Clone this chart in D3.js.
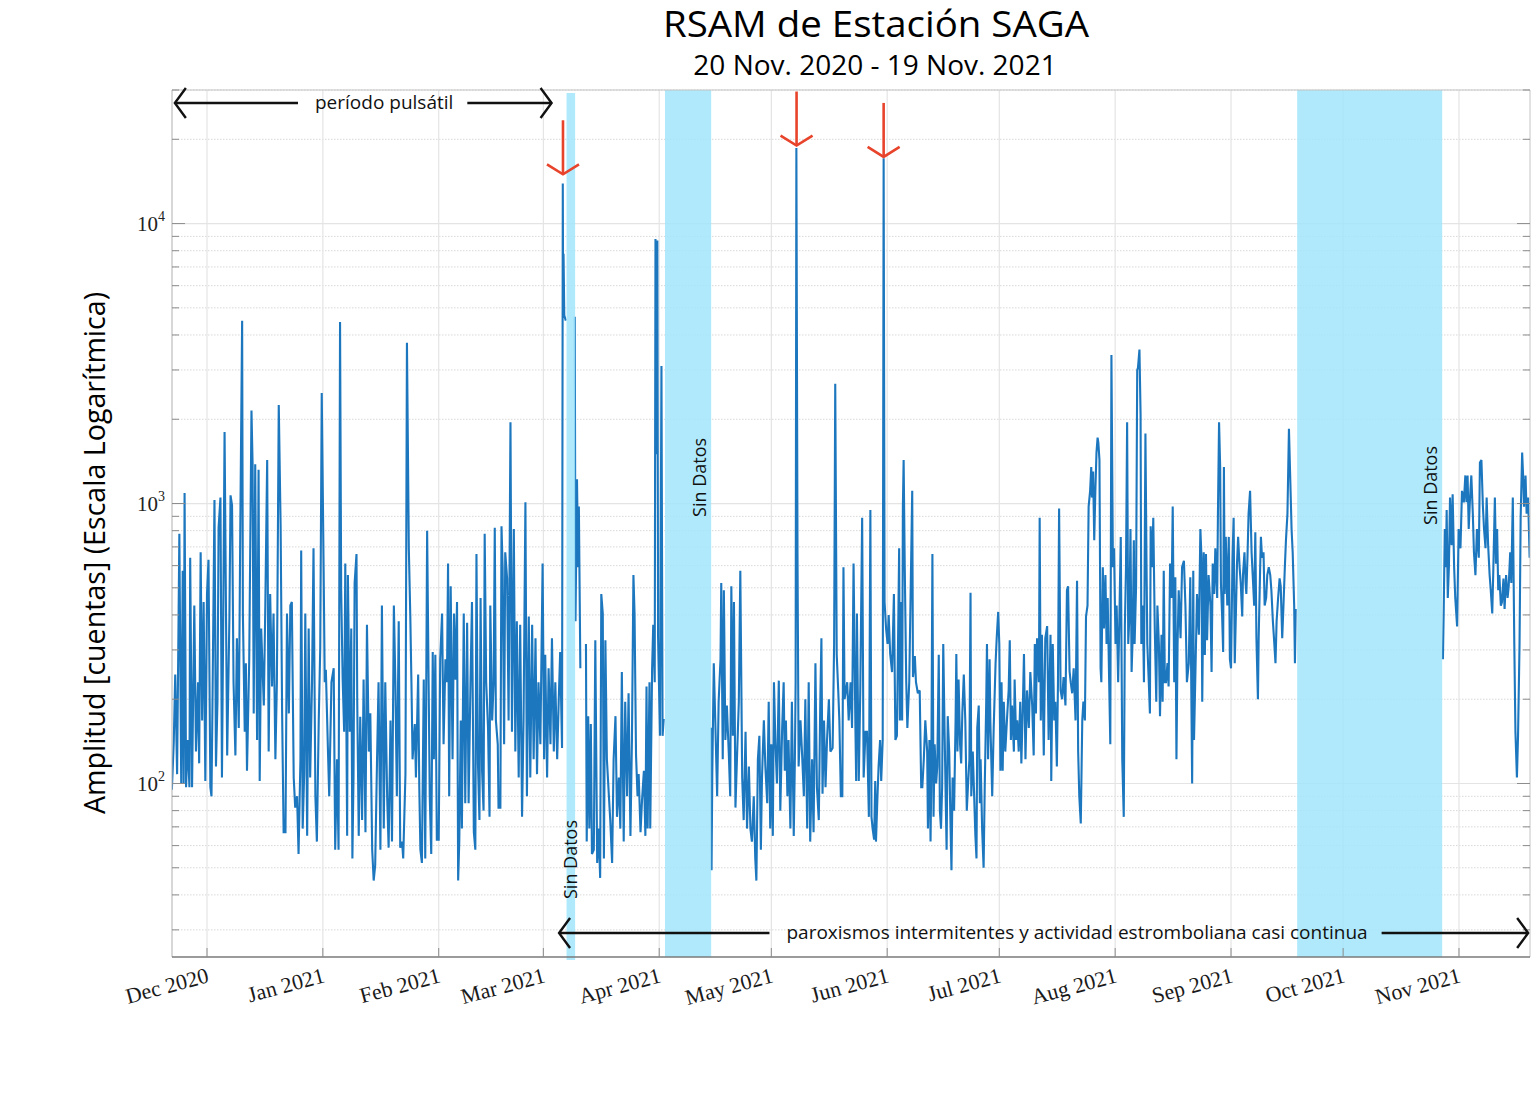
<!DOCTYPE html>
<html><head><meta charset="utf-8">
<script src="https://cdn.jsdelivr.net/npm/d3@7"></script>
<style>
body{margin:0;background:#fff}
svg{display:block}
.sans{font-family:"Open Sans","Noto Sans",sans-serif}
.serif{font-family:"Liberation Serif","DejaVu Serif",serif}
</style>
</head><body>
<svg id="c" width="1533" height="1095"></svg>
<script>
// ---------------- DATA (day offsets from 21 Nov 2020, RSAM counts) ----------------
const baseDate = new Date(2020, 10, 21);
const titleText = "RSAM de Estación SAGA";
const subtitleText = "20 Nov. 2020 - 19 Nov. 2021";
const yLabelText = "Amplitud [cuentas] (Escala Logarítmica)";
const yMajorTicks = [100, 1000, 10000];
const yTickExponents = ["2", "3", "4"];

const rsamNovFeb = [
[0.6,95],[1.1,140],[1.5,245],[2.0,108],[2.6,780],[3.1,100],[3.5,575],[3.75,100],[4.0,1090],[4.4,97],[4.8,143],[5.3,97],[5.5,640],[6.0,97],[6.6,432],[7.05,130],[7.6,230],[7.9,118],[8.3,670],[8.7,168],[9.1,445],[9.55,102],[10.0,475],[10.4,630],[10.9,97],[11.2,90],[11.5,215],[12.0,1030],[12.4,115],[12.8,196],[13.1,820],[13.6,1050],[14.0,105],[14.3,325],[14.7,1800],[15.1,380],[15.4,126],[16.0,395],[16.3,1070],[16.7,985],[17.1,230],[17.6,126],[18.0,330],[18.5,158],[18.9,795],[19.4,4500],[19.6,405],[20.1,153],[20.4,269],[20.7,111],[21.3,278],[21.9,2150],[22.2,1380],[22.5,178],[22.9,1380],[23.4,143],[23.8,1320],[24.1,102],[24.5,358],[25.2,190],[25.6,432],[26.1,1430],[26.5,130],[26.9,475],[27.4,222],[27.8,405],[28.3,122],[28.7,230],[29.2,2250],[29.7,830],[30.1,178],[30.5,67],[31.0,67],[31.4,405],[31.9,178],[32.3,432],[32.7,445],[33.2,105],[33.6,82],[34.1,90],[34.5,56],[35.0,122],[35.2,680],[35.6,69],[36.0,108],[36.3,405],[36.8,65],[37.2,358],[37.6,105],[38.1,230],[38.5,692],[39.0,90],[39.4,62],[39.9,168],[40.3,305],[40.7,2480],[41.2,592],[41.5,230],[41.8,255],[42.4,126],[42.7,90],[43.3,230],[43.9,258],[44.3,58],[44.8,122],[45.2,58],[45.6,4450],[45.9,490],[46.3,235],[46.7,153],[47.0,610],[47.5,65],[47.7,555],[48.2,153],[48.6,358],[48.9,54],[49.2,105],[49.5,520],[50.0,660],[50.2,196],[50.6,65],[51.0,173],[51.5,74],[51.9,235],[52.4,67],[52.8,369],[53.3,130],[53.7,178],[54.2,58],[54.6,45],[55.0,51],[55.5,122],[55.9,230],[56.4,58],[56.8,432],[57.3,69],[57.7,230],[58.2,90],[58.6,59],[59.1,168],[59.5,62],[60.0,432],[60.4,230],[60.8,90],[61.3,380],[61.7,59],[62.2,62],[62.5,54],[63.1,108],[63.5,3750],[64.0,692],[64.4,395],[64.7,230],[65.0,122],[65.6,163],[65.9,105],[66.5,245],[66.8,97],[67.1,58],[67.5,52],[68.0,235],[68.4,54],[68.9,800],[69.3,230],[69.6,90],[70.0,56],[70.4,295],[70.7,122],[71.1,288],[71.5,63],[72.0,63],[72.4,278],[72.9,405],[73.3,138],[73.8,278],[74.2,230],[74.5,610],[74.8,90],[75.2,506],[75.7,122],[76.1,405],[76.5,235],[76.9,445],[77.2,45],[77.5,62],[77.9,168],[78.2,69],[78.7,405],[79.1,85],[79.6,375],[80.0,85],[80.5,230],[80.9,445],[81.4,67],[81.8,58],[82.1,660],[82.5,118],[82.9,74],[83.2,460],[83.6,111],[84.0,80],[84.3,780],[84.7,230],[85.2,158],[85.6,76],[85.8,432],[86.3,168],[86.7,230],[87.0,820],[87.3,168],[87.8,138],[88.0,82],[88.5,82],[88.8,830],[89.1,592],[89.5,138],[89.8,670],[90.3,540],[90.7,168],[91.2,1950]
];
const rsamMarA = [
[91.6,153],[92.1,811],[92.5,130],[92.9,380],[93.4,105],[93.8,369],[94.3,76],[94.7,168],[95.2,1010],[95.6,90],[96.1,395],[96.5,105],[97.0,369],[97.4,122],[97.9,330],[98.3,108],[98.7,230],[99.2,138],[99.8,610],[100.2,122],[100.5,288],[101.0,105],[101.4,258],[101.9,138],[102.3,330],[102.8,130],[103.2,230],[103.7,122],[104.1,196],[104.5,295],[105.0,134],[105.2,13900],[105.3,4800],[105.4,7800],[105.6,4700],[106.0,4500]
];
const rsamMarB = [[108.4,4650],[108.6,380],[109.0,1220],[109.3,592],[109.5,975],[109.9,258]];
const rsamMarApr = [
[111.4,315],[111.6,62],[112.0,174],[112.3,69],[112.7,163],[113.0,56],[113.5,58],[113.9,325],[114.4,52],[114.8,69],[115.2,46],[115.5,475],[115.9,405],[116.2,54],[116.6,325],[117.0,122],[117.5,92],[117.9,74],[118.4,52],[118.8,122],[119.3,174],[119.7,76],[120.2,105],[120.6,69],[121.0,250],[121.5,62],[121.9,196],[122.4,90],[122.8,210],[123.3,65],[123.7,143],[124.1,555],[124.4,405],[124.8,126],[125.2,90],[125.5,108],[126.0,67],[126.4,87],[126.9,111],[127.3,65],[127.6,222],[127.9,69],[128.4,230],[128.6,69],[129.1,258],[129.4,369],[129.8,230],[130.0,8800],[130.2,1500],[130.5,8700],[130.7,330],[131.2,148],[131.6,3100],[131.9,148],[132.2,170]
];
const rsamAprMay = [
[144.9,158],[145.0,49],[145.2,108],[145.6,269],[146.0,168],[146.5,90],[146.9,196],[147.4,278],[147.6,520],[148.0,122],[148.3,490],[148.7,143],[149.1,190],[149.6,130],[150.0,90],[150.3,506],[150.7,148],[151.0,445],[151.4,82],[151.8,122],[152.3,196],[152.7,575],[153.2,105],[153.6,74],[154.1,153],[154.5,69],[155.0,115],[155.4,69],[155.8,62],[156.3,90],[156.7,54],[157.0,45],[157.4,122],[157.8,148],[158.2,58],[158.5,105],[159.0,168],[159.4,115],[159.9,85],[160.3,196],[160.7,69],[161.0,138],[161.4,65],[161.7,230],[162.1,138],[162.5,100],[163.0,233],[163.4,80],[163.9,158],[164.3,230],[164.6,111],[164.9,168],[165.3,90],[165.6,143],[166.1,69],[166.5,196],[167.0,65],[167.3,122],[167.5,230],[167.7,18600],[168.0,670],[168.3,115],[168.8,168],[169.2,130],[169.7,90],[170.1,200],[170.6,69],[171.0,230],[171.4,62],[171.9,122],[172.3,67],[172.8,269],[173.2,97],[173.7,74],[174.1,196],[174.4,330],[174.7,92],[175.1,168],[175.5,97],[175.9,143],[176.4,200],[176.8,130],[177.4,134],[177.8,315],[178.1,2680],[178.5,288],[178.9,215],[179.2,168],[179.6,90],[180.0,90],[180.3,592],[180.6,200],[181.3,230],[181.7,168],[182.2,230]
];
const rsamJunAug = [
[182.6,158],[183.0,610],[183.5,158],[183.7,102],[183.9,405],[184.4,102],[184.8,215],[185.3,890],[185.7,105],[186.2,153],[186.6,153],[187.1,76],[187.5,948],[187.8,76],[188.1,69],[188.5,63],[188.8,102],[189.0,62],[189.4,90],[189.7,115],[190.1,143],[190.4,102],[190.8,143],[191.05,17100],[191.3,445],[191.7,358],[192.1,315],[192.4,400],[192.8,290],[193.3,250],[193.8,475],[194.2,143],[194.6,148],[194.9,315],[195.2,692],[195.4,168],[195.7,445],[196.0,168],[196.2,975],[196.4,1430],[196.7,592],[197.1,230],[197.4,158],[197.9,230],[198.7,1110],[198.9,240],[199.4,285],[199.7,230],[200.2,210],[200.7,215],[201.1,97],[201.4,97],[201.8,122],[202.2,168],[202.7,130],[202.9,69],[203.3,143],[203.6,62],[203.8,105],[204.1,660],[204.4,76],[204.7,138],[205.1,100],[205.4,115],[205.8,288],[206.1,80],[206.4,69],[206.7,97],[207.0,315],[207.4,143],[207.7,82],[207.9,58],[208.2,174],[208.6,130],[208.9,76],[209.2,49],[209.5,105],[209.9,80],[210.3,168],[210.5,290],[210.8,130],[211.1,235],[211.5,138],[211.8,118],[212.1,178],[212.5,245],[212.9,168],[213.3,80],[213.6,97],[214.0,122],[214.3,480],[214.5,90],[214.9,130],[215.2,97],[215.6,65],[215.9,54],[216.1,158],[216.5,190],[216.8,85],[217.0,122],[217.4,69],[217.8,50],[218.1,97],[218.5,196],[218.7,315],[219.0,122],[219.4,278],[219.6,168],[220.1,90],[220.5,158],[221.0,269],[221.3,330],[221.7,410],[222.0,315],[222.3,111],[222.6,230],[222.9,111],[223.2,196],[223.6,130],[224.1,174],[224.5,215],[224.8,325],[225.1,143],[225.4,190],[225.9,130],[226.1,235],[226.5,143],[226.8,168],[227.2,130],[227.6,196],[227.9,118],[228.3,190],[228.6,290],[229.0,122],[229.4,215],[229.9,158],[230.3,250],[230.8,190],[231.2,126],[231.5,315],[231.8,178],[232.1,330],[232.6,230],[232.8,890],[233.1,168],[233.4,340],[233.9,126],[234.3,330],[234.8,365],[235.2,143],[235.7,340],[235.9,102],[236.3,315],[236.7,168],[237.0,196],[237.4,115],[237.7,230],[238.0,960],[238.4,215],[238.8,200],[239.2,240],[239.7,190],[240.1,490],[240.4,506],[240.8,252],[241.1,230],[241.5,210],[241.9,258],[242.4,168],[242.8,530],[243.1,130],[243.4,90],[243.8,72],[244.2,168],[244.5,196],[244.9,168],[245.2,395],[245.6,432],[245.9,975],[246.3,1110],[246.6,1350],[246.8,1050],[247.1,1300],[247.4,740],[247.7,1110],[248.0,1520],[248.3,1720],[248.5,1650],[248.8,1430],[249.1,258],[249.3,230],[249.7,592],[250.0,358],[250.4,555],[250.7,315],[251.0,460],[251.4,230],[251.7,138],[252.0,3390],[252.4,592],[252.7,692],[253.1,315],[253.4,432],[253.8,230],[254.1,369],[254.5,760],[254.9,122],[255.3,76],[255.6,369],[255.9,592],[256.2,1950],[256.5,315],[256.8,395],[257.1,811],[257.4,250],[257.7,340],[258.0,740],[258.2,315],[258.6,506],[258.9,3000],[259.1,3050],[259.5,3550],[259.8,2080],[260.0,315],[260.4,432],[260.7,230],[261.1,1780],[261.4,592],[261.6,315],[262.0,230],[262.3,178],[262.5,830],[262.9,592],[263.2,890],[263.6,358],[264.0,196],[264.3,432],[264.7,315],[265.0,174],[265.4,340],[265.7,196],[266.0,575],[266.3,230],[266.6,230],[267.0,269],[267.3,222],[267.7,610],[268.1,460],[268.4,975],[268.8,230],[269.1,545],[269.4,122],[269.7,315],[270.0,490],[270.5,330],[270.9,592],[271.4,625],[271.8,432],[272.2,230],[272.7,269],[273.1,545],[273.6,100]
];
const rsamSep = [
[273.9,575],[274.1,143],[274.5,258],[274.9,475],[275.4,340],[275.8,811],[276.1,640],[276.3,196],[276.7,670],[277.0,288],[277.3,660],[277.6,325],[278.0,555],[278.5,432],[278.8,250],[279.1,610],[279.5,475],[279.8,692],[280.3,460],[280.5,920],[280.8,1950],[281.1,1350],[281.3,520],[281.6,405],[281.9,295],[282.1,1350],[282.3,475],[282.6,760],[283.0,432],[283.4,760],[283.7,278],[284.0,258],[284.4,640],[284.7,890],[285.0,269],[285.4,460],[285.6,610],[285.9,760],[286.3,592],[286.6,520],[287.0,395],[287.2,555],[287.6,670],[287.9,520],[288.1,475],[288.4,640],[288.7,920],[289.1,1110],[289.5,670],[289.8,555],[290.2,432],[290.5,790],[290.8,330],[291.2,200],[291.4,330],[291.8,592],[292.0,760],[292.3,640],[292.7,670],[293.0,432],[293.4,460],[293.7,555],[294.1,592],[294.5,555],[294.8,490],[295.2,380],[295.5,330],[295.9,269],[296.2,380],[296.6,460],[297.0,540],[297.3,506],[297.7,330],[298.0,420],[298.4,592],[298.7,740],[299.1,920],[299.5,1850],[299.8,1300],[300.2,811],[300.5,670],[300.9,432],[301.1,269],[301.3,420]
];
const rsamOctNov = [
[340.7,278],[340.9,405],[341.2,811],[341.5,592],[341.7,948],[342.0,460],[342.3,592],[342.6,1050],[343.0,710],[343.3,1080],[343.7,592],[344.0,460],[344.5,364],[344.9,811],[345.4,692],[345.8,1110],[346.3,1010],[346.7,1260],[347.0,1010],[347.3,1260],[347.6,811],[348.0,1080],[348.3,1260],[348.7,920],[349.0,670],[349.4,555],[349.8,811],[350.3,640],[350.6,1400],[351.0,1430],[351.4,975],[351.7,811],[352.1,692],[352.4,1050],[352.8,710],[353.2,555],[353.5,490],[353.9,405],[354.2,592],[354.6,1050],[354.9,610],[355.2,811],[355.5,490],[355.8,555],[356.2,432],[356.5,445],[356.9,540],[357.2,420],[357.6,555],[358.0,460],[358.3,506],[358.7,670],[359.0,520],[359.4,1050],[359.8,315],[360.1,153],[360.5,105],[360.8,148],[361.2,315],[361.5,890],[361.9,1520],[362.2,1220],[362.4,975],[362.8,1260],[363.1,920],[363.5,1050],[363.9,640]
];
// no-data periods (day offsets)
const noDataStart = [106.2, 132.55, 301.7];
const noDataEnd   = [108.5, 144.9, 340.5];
// paroxysms marked with red arrows (day offset, arrow tip value)
const paroxysmDays = [105.25, 167.75, 191.05];
const paroxysmTips = [15000, 19000, 17300];
// activity periods
const periodLabels = ["período pulsátil", "paroxismos intermitentes y actividad estromboliana casi continua"];
const periodFrom = [1.4, 104.2];
const periodTo   = [102.2, 363.5];
const periodTextCenter = [57.4, 242.8];

// ---------------- DRAWING ----------------
const svg = d3.select("#c");
const L = 172, R = 1530, T = 90, B = 957;
const toDate = d => new Date(baseDate.getTime() + d * 86400000);
const x = d3.scaleTime().domain([new Date(2020, 10, 21, 15, 13), new Date(2021, 10, 20)]).range([L, R]);
const y = d3.scaleLog().domain([24, 30000]).range([B, T]);

// grid
const months = d3.timeMonth.range(new Date(2020, 11, 1), new Date(2021, 10, 2));
const minors = [];
for (let e = 1; e <= 4; e++) for (let m = 2; m <= 9; m++) { const v = m * Math.pow(10, e); if (v >= 24 && v <= 30000) minors.push(v); }
const grid = svg.append("g");
grid.selectAll("line.mv").data(minors).join("line")
  .attr("x1", L).attr("x2", R).attr("y1", d => y(d)).attr("y2", d => y(d))
  .attr("stroke", "#d8d8d8").attr("stroke-width", 1).attr("stroke-dasharray", "1.5,1.5");
grid.selectAll("line.mj").data(yMajorTicks).join("line")
  .attr("x1", L).attr("x2", R).attr("y1", d => y(d)).attr("y2", d => y(d))
  .attr("stroke", "#e4e4e4").attr("stroke-width", 1.2);
grid.selectAll("line.vx").data(months).join("line")
  .attr("x1", d => x(d)).attr("x2", d => x(d)).attr("y1", T).attr("y2", B)
  .attr("stroke", "#e4e4e4").attr("stroke-width", 1.2);

// clip
svg.append("clipPath").attr("id", "clip").append("rect").attr("x", L).attr("y", T).attr("width", R - L).attr("height", B - T);

// data
const segments = [rsamNovFeb.concat(rsamMarA), rsamMarB, rsamMarApr, rsamAprMay.concat(rsamJunAug, rsamSep), rsamOctNov];
const line = d3.line().x(p => x(toDate(p[0]))).y(p => y(p[1]));
svg.append("g").attr("clip-path", "url(#clip)")
  .selectAll("path").data(segments).join("path")
  .attr("d", line).attr("fill", "none").attr("stroke", "#1c77bf").attr("stroke-width", 2.1)
  .attr("stroke-linejoin", "miter").attr("stroke-miterlimit", 2);

// no-data bands
const bands = noDataStart.map((s, i) => [s, noDataEnd[i]]);
svg.append("g").selectAll("rect").data(bands).join("rect")
  .attr("x", d => x(toDate(d[0]))).attr("width", d => x(toDate(d[1])) - x(toDate(d[0])))
  .attr("y", (d, i) => i === 0 ? T + 3 : T).attr("height", B - T)
  .attr("fill", "rgb(161,229,250)").attr("fill-opacity", 0.85);

// axes box
svg.append("line").attr("x1", L).attr("x2", R).attr("y1", T).attr("y2", T).attr("stroke", "#c4c4c4");
svg.append("line").attr("x1", L).attr("x2", L).attr("y1", T).attr("y2", B).attr("stroke", "#b0b0b0");
svg.append("line").attr("x1", R).attr("x2", R).attr("y1", T).attr("y2", B).attr("stroke", "#c4c4c4");
svg.append("line").attr("x1", L).attr("x2", R).attr("y1", B).attr("y2", B).attr("stroke", "#7a7a7a").attr("stroke-width", 1.3);

// y ticks (both sides)
const tk = svg.append("g").attr("stroke", "#8c8c8c").attr("stroke-width", 1);
yMajorTicks.forEach(v => {
  tk.append("line").attr("x1", L).attr("x2", L + 13).attr("y1", y(v)).attr("y2", y(v));
  tk.append("line").attr("x1", R - 13).attr("x2", R).attr("y1", y(v)).attr("y2", y(v));
});
minors.forEach(v => {
  tk.append("line").attr("x1", L).attr("x2", L + 7).attr("y1", y(v)).attr("y2", y(v));
  tk.append("line").attr("x1", R - 7).attr("x2", R).attr("y1", y(v)).attr("y2", y(v));
});
months.forEach(m => {
  tk.append("line").attr("x1", x(m)).attr("x2", x(m)).attr("y1", B).attr("y2", B - 9);
});

// y tick labels
yMajorTicks.forEach((v, i) => {
  const t = svg.append("text").attr("class", "serif").attr("x", 165).attr("y", y(v) + 7.5)
    .attr("text-anchor", "end").attr("font-size", 21).attr("fill", "#222");
  t.append("tspan").text("10");
  t.append("tspan").attr("dy", -10).attr("font-size", 14).text(yTickExponents[i]);
});

// x tick labels
const fmt = d3.timeFormat("%b %Y");
months.forEach(m => {
  svg.append("text").attr("class", "serif")
    .attr("transform", `translate(${x(m) + 3},${982}) rotate(-15)`)
    .attr("text-anchor", "end").attr("font-size", 22).attr("fill", "#1a1a1a").text(fmt(m));
});

// titles
svg.append("text").attr("class", "sans").attr("x", 876).attr("y", 37).attr("text-anchor", "middle")
  .attr("font-size", 36).attr("textLength", 426).attr("lengthAdjust", "spacingAndGlyphs")
  .attr("fill", "#000").text(titleText);
svg.append("text").attr("class", "sans").attr("x", 875).attr("y", 75).attr("text-anchor", "middle")
  .attr("font-size", 28).attr("fill", "#000").text(subtitleText);
svg.append("text").attr("class", "sans").attr("transform", "translate(105,553) rotate(-90)")
  .attr("text-anchor", "middle").attr("font-size", 28.6).attr("fill", "#000").text(yLabelText);

// "Sin Datos" labels
const sinPos = [{dx: 2, v: 53.5}, {dx: -5, v: 1240}, {dx: -5, v: 1160}];
bands.forEach((b, i) => {
  svg.append("text").attr("class", "sans")
    .attr("transform", `translate(${x(toDate(b[1])) + sinPos[i].dx},${y(sinPos[i].v)}) rotate(-90)`)
    .attr("text-anchor", "middle").attr("font-size", 18).attr("fill", "#111").text("Sin Datos");
});

// red arrows
const red = "#e8432b";
paroxysmDays.forEach((d, i) => {
  const px = x(toDate(d)), ty = y(paroxysmTips[i]);
  svg.append("line").attr("x1", px).attr("x2", px).attr("y1", ty - 54).attr("y2", ty)
    .attr("stroke", red).attr("stroke-width", 2.6);
  svg.append("polyline").attr("points", `${px - 16},${ty - 10} ${px},${ty} ${px + 16},${ty - 10}`)
    .attr("fill", "none").attr("stroke", red).attr("stroke-width", 2.6);
});

// period arrows
const periodY = [103, 933];
periodLabels.forEach((lab, i) => {
  const yy = periodY[i];
  const cx = x(toDate(periodTextCenter[i]));
  const t = svg.append("text").attr("class", "sans").attr("x", cx).attr("y", yy + 6)
    .attr("text-anchor", "middle").attr("font-size", 19).attr("fill", "#111").text(lab);
  const w = t.node().getComputedTextLength();
  const x0 = x(toDate(periodFrom[i])), x1 = x(toDate(periodTo[i]));
  const g = svg.append("g").attr("stroke", "#111").attr("stroke-width", 2.4).attr("fill", "none");
  g.append("line").attr("x1", x0).attr("x2", cx - w / 2 - 17).attr("y1", yy).attr("y2", yy);
  g.append("line").attr("x1", cx + w / 2 + 14).attr("x2", x1).attr("y1", yy).attr("y2", yy);
  g.append("polyline").attr("points", `${x0 + 11},${yy - 15} ${x0},${yy} ${x0 + 11},${yy + 15}`);
  g.append("polyline").attr("points", `${x1 - 11},${yy - 15} ${x1},${yy} ${x1 - 11},${yy + 15}`);
});
</script>
</body></html>
